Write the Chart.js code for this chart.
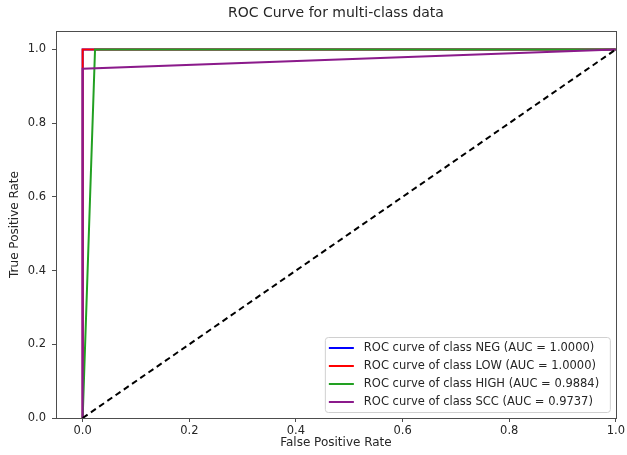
<!DOCTYPE html>
<html>
<head>
<meta charset="utf-8">
<script src="https://cdn.jsdelivr.net/npm/chart.js@4/dist/chart.umd.min.js"></script>
<style>
html,body{margin:0;padding:0;background:#fff;}
#wrap{width:627px;height:455px;position:relative;}
</style>
</head>
<body>
<div id="wrap"><canvas id="c" width="627" height="455"></canvas></div>
<script>
const chartTitle = "ROC Curve for multi-class data";
const xTitle = "False Positive Rate";
const yTitle = "True Positive Rate";
const tickValues = [0.0, 0.2, 0.4, 0.6, 0.8, 1.0];

const classNames = ["NEG", "LOW", "HIGH", "SCC"];
const aucValues = ["1.0000", "1.0000", "0.9884", "0.9737"];
const classColors = ["#0000ff", "#ff0000", "#22a022", "#8b1a8b"];

const fprNEG = [0, 0, 1];
const tprNEG = [0, 1, 1];
const fprLOW = [0, 0, 1];
const tprLOW = [0, 1, 1];
const fprHIGH = [0, 0.0232, 1];
const tprHIGH = [0, 1, 1];
const fprSCC = [0, 0, 1];
const tprSCC = [0, 0.9474, 1];
const diagX = [0, 1];
const diagY = [0, 1];

const fprs = [fprNEG, fprLOW, fprHIGH, fprSCC];
const tprs = [tprNEG, tprLOW, tprHIGH, tprSCC];

function pts(xs, ys){ return xs.map((x,i)=>({x:x, y:ys[i]})); }

const datasets = classNames.map((n,i)=>({
  label: `ROC curve of class ${n} (AUC = ${aucValues[i]})`,
  data: pts(fprs[i], tprs[i]),
  borderColor: classColors[i],
  backgroundColor: classColors[i],
  borderWidth: 2,
  showLine: true,
  pointRadius: 0,
  fill: false,
  tension: 0,
  order: 3 - i
}));
datasets.push({
  label: "diag",
  data: pts(diagX, diagY),
  borderColor: "#000000",
  borderWidth: 2,
  borderDash: [6, 4],
  showLine: true,
  pointRadius: 0,
  fill: false,
  order: -1,
  isDiag: true
});

const FONT = "'DejaVu Sans', sans-serif";
const TEXT = "#262626";

const framePlugin = {
  id: 'frame',
  afterDraw(chart){
    const ctx = chart.ctx, a = chart.chartArea;
    ctx.save();
    ctx.strokeStyle = "#4d4d4d";
    ctx.lineWidth = 1;
    ctx.strokeRect(Math.round(a.left)+0.5, Math.round(a.top)+0.5, Math.round(a.right-a.left), Math.round(a.bottom-a.top));
    // title centered over plot area
    ctx.fillStyle = TEXT;
    ctx.font = "14px " + FONT;
    ctx.textAlign = "center";
    ctx.textBaseline = "middle";
    ctx.fillText(chartTitle, (a.left + a.right)/2, 13);
    // legend box (lower right)
    const ds = chart.data.datasets.filter(d=>!d.isDiag);
    ctx.font = "11.5px " + FONT;
    let maxW = 0;
    ds.forEach(d=>{ maxW = Math.max(maxW, ctx.measureText(d.label).width); });
    const rowH = 18;
    const bw = Math.max(285, 39 + maxW + 6);
    const bh = ds.length*rowH + 3;
    const bx = a.right - 6 - bw;
    const by = a.bottom - 6 - bh;
    ctx.fillStyle = "rgba(255,255,255,0.85)";
    ctx.strokeStyle = "#d0d0d0";
    ctx.lineWidth = 1;
    ctx.beginPath();
    if (ctx.roundRect) ctx.roundRect(bx+0.5, by+0.5, bw, bh, 3); else ctx.rect(bx+0.5, by+0.5, bw, bh);
    ctx.fill(); ctx.stroke();
    ds.forEach((d,i)=>{
      const cy = by + 2 + rowH*(i+0.5);
      ctx.strokeStyle = d.borderColor;
      ctx.lineWidth = 2;
      ctx.beginPath();
      ctx.moveTo(bx+4, cy); ctx.lineTo(bx+29, cy); ctx.stroke();
      ctx.fillStyle = TEXT;
      ctx.textAlign = "left";
      ctx.textBaseline = "middle";
      ctx.fillText(d.label, bx+39, cy);
    });
    ctx.restore();
  }
};

new Chart(document.getElementById('c'), {
  type: 'scatter',
  data: { datasets: datasets },
  options: {
    responsive: false,
    animation: false,
    devicePixelRatio: 1,
    layout: { padding: { top: 31, right: 8, left: 0, bottom: 0 } },
    plugins: {
      legend: { display: false },
      title: { display: false },
      tooltip: { enabled: false }
    },
    scales: {
      x: {
        type: 'linear',
        min: -0.05, max: 1.0,
        afterBuildTicks(s){ s.ticks = tickValues.map(v=>({value:v})); },
        afterFit(s){ s.height = 37; },
        ticks: { color: TEXT, font: { family: FONT, size: 11.5 }, padding: 2, maxRotation: 0,
                 callback: v => Number(v).toFixed(1) },
        grid: { drawOnChartArea: false, tickLength: 4, color: "#4d4d4d" },
        border: { display: false },
        title: { display: true, text: xTitle, color: TEXT, font: { family: FONT, size: 12 }, padding: { top: 2, bottom: 5 } }
      },
      y: {
        type: 'linear',
        min: 0, max: 1.05,
        afterBuildTicks(s){ s.ticks = tickValues.map(v=>({value:v})); },
        afterFit(s){ s.width = 56; },
        ticks: { color: TEXT, font: { family: FONT, size: 11.5 }, padding: 6,
                 callback: v => Number(v).toFixed(1) },
        grid: { drawOnChartArea: false, tickLength: 4, color: "#4d4d4d" },
        border: { display: false },
        title: { display: true, text: yTitle, color: TEXT, font: { family: FONT, size: 12 }, padding: { top: 8, bottom: 4 } }
      }
    }
  },
  plugins: [framePlugin]
});
</script>
</body>
</html>
